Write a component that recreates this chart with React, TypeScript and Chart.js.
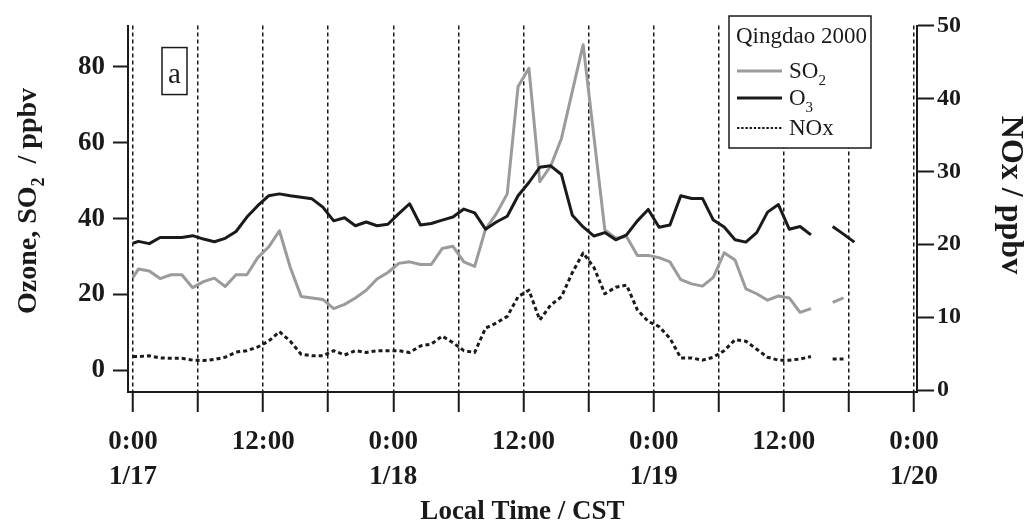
import { useEffect, useRef } from 'react';
import { Chart, registerables } from 'chart.js';

Chart.register(...registerables);

const SERIF = "'Liberation Serif', 'Times New Roman', Times, serif";
const INK = '#1a1a1a';
const GREY = '#9b9b9b';

// sampling times, hours after 0:00 on 1/17 (CST)
const hours = [
  0, 0.5, 1.5, 2.5, 3.5, 4.5, 5.5, 6.5, 7.5, 8.5,
  9.5, 10.5, 11.5, 12.5, 13.5, 14.5, 15.5, 16.5, 17.5, 18.5,
  19.5, 20.5, 21.5, 22.5, 23.5, 24.5, 25.5, 26.5, 27.5, 28.5,
  29.5, 30.5, 31.5, 32.5, 33.5, 34.5, 35.5, 36.5, 37.5, 38.5,
  39.5, 40.5, 41.5, 42.5, 43.5, 44.5, 45.5, 46.5, 47.5, 48.5,
  49.5, 50.5, 51.5, 52.5, 53.5, 54.5, 55.5, 56.5, 57.5, 58.5,
  59.5, 60.5, 61.5, 62.5, 63.5, 64.5, 65.5, 66.5,
];

// ozone, ppbv (left axis)
const ozone = [
  33.5, 34.0, 33.4, 35.0, 35.0, 35.0, 35.5, 34.6, 33.9, 34.8,
  36.6, 40.4, 43.4, 46.0, 46.5, 46.0, 45.6, 45.2, 43.0, 39.4,
  40.2, 38.1, 39.1, 38.1, 38.5, 41.3, 43.9, 38.3, 38.7, 39.6,
  40.4, 42.5, 41.5, 37.2, 39.1, 40.6, 46.0, 49.5, 53.5, 53.9,
  51.6, 40.9, 37.8, 35.4, 36.3, 34.4, 35.7, 39.4, 42.4, 37.7,
  38.3, 46.0, 45.3, 45.3, 39.6, 37.8, 34.4, 33.8, 36.3, 41.7,
  43.7, 37.2, 37.9, 35.7, null, 37.9, 35.9, 33.8,
];

// SO2, ppbv (left axis)
const so2 = [
  24.5, 26.7, 26.2, 24.2, 25.2, 25.2, 21.8, 23.4, 24.3, 22.1,
  25.2, 25.2, 29.7, 32.5, 36.8, 27.1, 19.5, 19.1, 18.7, 16.3,
  17.4, 19.1, 21.1, 24.1, 25.8, 28.2, 28.6, 27.9, 27.9, 32.1,
  32.7, 28.6, 27.4, 37.2, 41.3, 46.5, 74.8, 79.6, 49.7, 53.8,
  61.1, 73.5, 85.8, 61.4, 37.0, 34.8, 35.3, 30.3, 30.3, 29.7,
  28.6, 23.9, 22.8, 22.2, 24.5, 31.0, 29.1, 21.5, 20.2, 18.5,
  19.6, 19.1, 15.3, 16.3, null, 17.9, 19.1, null,
];

// NOx, ppbv (right axis)
const nox = [
  4.6, 4.6, 4.7, 4.4, 4.35, 4.35, 4.1, 4.05, 4.2, 4.5,
  5.2, 5.4, 5.9, 6.7, 8.0, 6.7, 4.9, 4.7, 4.7, 5.4,
  4.8, 5.4, 5.15, 5.4, 5.4, 5.4, 5.15, 6.05, 6.3, 7.4,
  6.5, 5.4, 5.15, 8.5, 9.2, 10.1, 12.8, 13.7, 9.6, 11.65,
  12.8, 16.1, 18.8, 16.8, 13.2, 14.1, 14.4, 11.0, 9.4, 8.7,
  7.1, 4.4, 4.4, 4.1, 4.5, 5.4, 6.9, 6.7, 5.6, 4.5,
  4.1, 4.1, 4.25, 4.6, null, 4.25, 4.25, null,
];

const timeTicks = [0, 6, 12, 18, 24, 30, 36, 42, 48, 54, 60, 66, 72];
const dayLabels = ['1/17', '1/18', '1/19', '1/20'];
const leftTicks = [0, 20, 40, 60, 80];
const rightTicks = [0, 10, 20, 30, 40, 50];

type Piece = { text: string; sub?: boolean };

function pieceFont(p: Piece, size: number, weight: string) {
  const s = p.sub ? Math.round(size * 0.64) : size;
  return `${weight} ${s}px ${SERIF}`;
}

function drawRich(
  ctx: CanvasRenderingContext2D,
  pieces: Piece[],
  x: number,
  baseline: number,
  size: number,
  weight: string,
  align: 'left' | 'center',
) {
  ctx.textAlign = 'left';
  ctx.textBaseline = 'alphabetic';
  let total = 0;
  const widths = pieces.map((p) => {
    ctx.font = pieceFont(p, size, weight);
    const w = ctx.measureText(p.text).width;
    total += w;
    return w;
  });
  let cx = align === 'center' ? x - total / 2 : x;
  pieces.forEach((p, i) => {
    ctx.font = pieceFont(p, size, weight);
    ctx.fillText(p.text, cx, p.sub ? baseline + size * 0.3 : baseline);
    cx += widths[i];
  });
}

const decorations = {
  id: 'decorations',
  afterDraw(chart: any) {
    const { ctx, chartArea } = chart;
    const ds = chart.data.datasets;
    ctx.save();
    ctx.fillStyle = INK;

    // axis titles
    ctx.save();
    ctx.translate(27, 201);
    ctx.rotate(-Math.PI / 2);
    drawRich(ctx, [{ text: 'Ozone, SO' }, { text: '2', sub: true }, { text: '  / ppbv' }], 0, 9, 28, 'bold', 'center');
    ctx.restore();

    ctx.save();
    ctx.translate(1012, 195);
    ctx.rotate(Math.PI / 2);
    drawRich(ctx, [{ text: 'NOx / ppbv' }], 0, 10, 32, 'bold', 'center');
    ctx.restore();

    drawRich(ctx, [{ text: 'Local Time / CST' }], (chartArea.left + chartArea.right) / 2, 519, 27, 'bold', 'center');

    // panel tag
    const tx = chartArea.left + 34;
    const ty = chartArea.top + 22;
    ctx.fillStyle = '#ffffff';
    ctx.fillRect(tx, ty, 25, 47);
    ctx.strokeStyle = INK;
    ctx.lineWidth = 1.5;
    ctx.strokeRect(tx, ty, 25, 47);
    ctx.fillStyle = INK;
    drawRich(ctx, [{ text: 'a' }], tx + 12.5, ty + 35, 29, 'normal', 'center');

    // legend box
    const lx = 729;
    const ly = 16;
    const lw = 142;
    const lh = 132;
    ctx.fillStyle = '#ffffff';
    ctx.fillRect(lx, ly, lw, lh);
    ctx.strokeStyle = INK;
    ctx.lineWidth = 1.5;
    ctx.strokeRect(lx, ly, lw, lh);
    ctx.fillStyle = INK;
    drawRich(ctx, [{ text: 'Qingdao 2000' }], lx + 7, ly + 27, 23, 'normal', 'left');

    const rows: { d: any; y: number; label: Piece[] }[] = [
      { d: ds[0], y: ly + 55, label: [{ text: 'SO' }, { text: '2', sub: true }] },
      { d: ds[1], y: ly + 82, label: [{ text: 'O' }, { text: '3', sub: true }] },
      { d: ds[2], y: ly + 112, label: [{ text: 'NOx' }] },
    ];
    rows.forEach((r) => {
      ctx.save();
      ctx.strokeStyle = r.d.borderColor;
      const dash: number[] = r.d.borderDash || [];
      ctx.lineWidth = dash.length ? 2 : r.d.borderWidth;
      ctx.setLineDash(dash.map((v: number) => v * 0.6));
      ctx.beginPath();
      ctx.moveTo(lx + 8, r.y);
      ctx.lineTo(lx + 53, r.y);
      ctx.stroke();
      ctx.restore();
      ctx.fillStyle = INK;
      drawRich(ctx, r.label, lx + 60, r.y + 7, 23, 'normal', 'left');
    });

    ctx.restore();
  },
};

export default function App() {
  const canvasRef = useRef<HTMLCanvasElement>(null);

  useEffect(() => {
    document.body.style.margin = '0';
    const canvas = canvasRef.current;
    if (!canvas) return;
    const series = (vals: (number | null)[]) => hours.map((h, i) => ({ x: h, y: vals[i] }));
    const tickFont = (size: number) => ({ family: SERIF, size, weight: 'bold' as const, lineHeight: 1.3 });

    const chart = new Chart(canvas, {
      type: 'line',
      data: {
        datasets: [
          { label: 'SO2', data: series(so2), borderColor: GREY, borderWidth: 3, yAxisID: 'y', order: 2 },
          { label: 'O3', data: series(ozone), borderColor: INK, borderWidth: 3, yAxisID: 'y', order: 1 },
          { label: 'NOx', data: series(nox), borderColor: INK, borderWidth: 3, borderDash: [4, 3], yAxisID: 'y2', order: 0 },
        ] as any,
      },
      options: {
        animation: false,
        responsive: false,
        spanGaps: false,
        elements: {
          point: { radius: 0, hoverRadius: 0 },
          line: { tension: 0, borderJoinStyle: 'round', fill: false },
        },
        layout: { padding: { top: 18, left: 0, right: 0, bottom: 0 } },
        plugins: { legend: { display: false }, tooltip: { enabled: false } },
        scales: {
          x: {
            type: 'linear',
            position: 'bottom',
            min: -0.461,
            max: 72.277,
            afterBuildTicks: (s: any) => {
              s.ticks = timeTicks.map((v) => ({ value: v }));
            },
            afterFit: (s: any) => {
              s.height = 134;
            },
            ticks: {
              autoSkip: false,
              maxRotation: 0,
              minRotation: 0,
              padding: 12,
              color: INK,
              font: tickFont(27),
              callback: (v: any) => {
                const n = Number(v);
                if (n % 24 === 0) return ['0:00', dayLabels[n / 24]];
                if (n % 12 === 0) return '12:00';
                return '';
              },
            },
            grid: {
              color: INK,
              lineWidth: 1.5,
              drawOnChartArea: true,
              drawTicks: true,
              tickLength: 20,
              tickColor: INK,
              tickWidth: 2,
              tickBorderDash: [],
            },
            border: { display: true, color: INK, width: 2, dash: [4, 3] },
          },
          y: {
            position: 'left',
            min: -5.68,
            max: 90.84,
            afterBuildTicks: (s: any) => {
              s.ticks = leftTicks.map((v) => ({ value: v }));
            },
            afterFit: (s: any) => {
              s.width = 128;
            },
            ticks: { padding: 8, color: INK, font: tickFont(27) },
            grid: { drawOnChartArea: false, drawTicks: true, tickLength: 15, tickColor: INK, tickWidth: 2 },
            border: { display: true, color: INK, width: 2 },
          },
          y2: {
            position: 'right',
            min: -0.27,
            max: 50,
            afterBuildTicks: (s: any) => {
              s.ticks = rightTicks.map((v) => ({ value: v }));
            },
            afterFit: (s: any) => {
              s.width = 117;
            },
            ticks: { padding: 3, color: INK, font: tickFont(24) },
            grid: { drawOnChartArea: false, drawTicks: true, tickLength: 17, tickColor: INK, tickWidth: 2 },
            border: { display: true, color: INK, width: 2 },
          },
        },
      } as any,
      plugins: [decorations],
    });

    return () => chart.destroy();
  }, []);

  return (
    <div style={{ width: 1034, height: 526, background: '#ffffff' }}>
      <canvas ref={canvasRef} width={1034} height={526} style={{ display: 'block' }} />
    </div>
  );
}
